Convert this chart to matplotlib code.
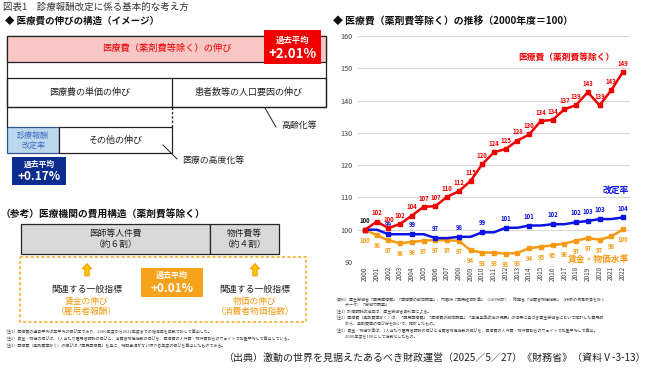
import matplotlib
matplotlib.use("Agg")
import matplotlib.pyplot as plt
from matplotlib.patches import Rectangle, FancyArrow

plt.rcParams['font.family'] = ['Noto Sans CJK JP', 'DejaVu Sans']

# ---------------- data ----------------
years = list(range(2000, 2023))
medical = [100, 102.5, 100.5, 101.8, 104.4, 107.1, 107.3, 110.2, 111.9, 115.1, 120.3, 124.0,
           125.0, 127.6, 129.5, 133.7, 134.0, 137.3, 138.6, 142.6, 138.5, 143.2, 148.9]
medical_lbl = ["100", "102", "100", "102", "104", "107", "107", "110", "112", "115", "120", "124",
               "125", "128", "130", "134", "134", "137", "139", "143", "139", "143", "149"]
revision = [100, 100, 98.6, 98.6, 98.6, 98.6, 97.4, 97.4, 97.8, 97.8, 99.2, 99.2,
            100.6, 100.6, 101.3, 101.3, 101.7, 101.7, 102.3, 102.7, 103.3, 103.3, 103.8]
revision_lbl = {2002: "99", 2004: "99", 2006: "97", 2008: "98", 2010: "99", 2012: "101",
                2014: "101", 2016: "102", 2018: "102", 2019: "103", 2020: "103", 2022: "104"}
wage_price = [100, 98.3, 96.7, 95.8, 96.2, 96.6, 96.8, 96.7, 96.6, 93.6, 92.9, 92.9,
              92.6, 92.8, 94.3, 94.7, 95.2, 95.7, 96.6, 97.4, 96.9, 97.9, 100.1]
wage_price_lbl = ["100", "98", "97", "96", "96", "97", "97", "97", "97", "94", "93", "93",
                  "93", "93", "94", "95", "95", "96", "97", "97", "97", "98", "100"]
yticks = [90, 100, 110, 120, 130, 140, 150, 160]

RED = "#F00000"
BLUE = "#0A14E6"
ORANGE = "#F59A12"

fig = plt.figure(figsize=(6.5, 3.68), dpi=100)
bg = fig.add_axes([0, 0, 1, 1])
bg.set_xlim(0, 650)
bg.set_ylim(368, 0)
bg.axis("off")

def T(x, y, s, size=6, color="#222222", weight="normal", ha="left", va="center", **kw):
    bg.text(x, y, s, fontsize=size, color=color, fontweight=weight, ha=ha, va=va, **kw)

# ---------------- left: structure diagram ----------------
T(3, 7, "図表1　診療報酬改定に係る基本的な考え方", size=6.8, color="#333333")
T(5, 21, "◆ 医療費の伸びの構造（イメージ）", size=6.8, weight="bold", color="#111111")

bg.add_patch(Rectangle((7, 36), 319, 71, fill=False, ec="#222222", lw=0.9))
bg.add_patch(Rectangle((7, 36), 319, 25.5, fc="#F9C6C6", ec="#222222", lw=0.9))
T(167, 48.5, "医療費（薬剤費等除く）の伸び", size=6.7, color=RED, ha="center")
bg.add_patch(Rectangle((264, 30), 57, 34, fc="#F00000", ec="none"))
T(292.5, 40, "過去平均", size=6, color="white", weight="bold", ha="center")
T(292.5, 54, "+2.01%", size=9.5, color="white", weight="bold", ha="center")

bg.add_patch(Rectangle((7, 78), 319, 29, fill=False, ec="#222222", lw=0.9))
bg.plot([172, 172], [78, 107], color="#222222", lw=0.9)
T(90, 92.5, "医療費の単価の伸び", size=6.5, ha="center")
T(249, 92.5, "患者数等の人口要因の伸び", size=6.5, ha="center")

bg.plot([7, 7], [107, 127], color="#222222", lw=0.9)
bg.plot([172, 172], [107, 127], color="#222222", lw=0.9, ls=(0, (2, 1.5)))
bg.add_patch(Rectangle((7, 127), 52, 26, fc="#BDD7EE", ec="#2F5597", lw=0.9))
T(33, 140, "診療報酬\n改定率", size=5.8, color="#4472C4", ha="center", linespacing=1.15)
bg.add_patch(Rectangle((59, 127), 113, 26, fc="white", ec="#222222", lw=0.9))
T(115, 140, "その他の伸び", size=6.5, ha="center")

bg.add_patch(Rectangle((12, 157), 54, 28, fc="#0B2D8F", ec="none"))
T(39, 164.5, "過去平均", size=5.6, color="white", weight="bold", ha="center")
T(39, 177, "+0.17%", size=8.5, color="white", weight="bold", ha="center")

bg.plot([265, 276], [108, 127], color="#222222", lw=0.7)
T(281, 125, "高齢化等", size=6.4)
bg.plot([163, 177], [145, 159], color="#222222", lw=0.7)
T(182, 160, "医療の高度化等", size=6.4)

# ---------------- left: cost structure ----------------
T(1, 215, "（参考）医療機関の費用構造（薬剤費等除く）", size=7.0, weight="bold", color="#111111")
bg.add_patch(Rectangle((21, 224), 189, 30, fc="#D9D9D9", ec="#262626", lw=0.9))
bg.add_patch(Rectangle((210, 224), 69, 30, fc="#D9D9D9", ec="#262626", lw=0.9))
T(115.5, 239, "医師等人件費\n（約６割）", size=6.3, ha="center", linespacing=1.3)
T(244.5, 239, "物件費等\n（約４割）", size=6.3, ha="center", linespacing=1.3)

bg.add_patch(Rectangle((20, 257), 286, 65, fill=False, ec="#F5A623", lw=1.1, ls=(0, (2, 1.5))))
for ax_x in (87, 255):
    bg.add_patch(FancyArrow(ax_x, 276, 0, -7, width=4.5, head_width=10, head_length=5.5,
                            length_includes_head=False, fc="#FFC000", ec="#F39800", lw=0.6))
    T(ax_x, 289, "関連する一般指標", size=6.4, ha="center")
T(87, 306.5, "賃金の伸び\n（雇用者報酬）", size=6.3, color=ORANGE, ha="center", linespacing=1.2)
T(255, 306.5, "物価の伸び\n（消費者物価指数）", size=6.3, color=ORANGE, ha="center", linespacing=1.2)

bg.add_patch(Rectangle((141, 268), 62, 29, fc="#F7A21B", ec="none"))
T(172, 275.5, "過去平均", size=5.8, color="white", weight="bold", ha="center")
T(172, 289, "+0.01%", size=8.5, color="white", weight="bold", ha="center")

notes_left = [
    "（注1）医療費の過去平均は年平均の伸び率であり、2000年度から2022年度までの増減率を年数で除して算出した。",
    "（注2）賃金・物価の伸びは、1人当たり雇用者報酬の伸びと、消費者物価指数の伸びを、医療費の人件費・物件費割合のウェイトで加重平均して算出している。",
    "（注3）医療費（薬剤費等除く）の伸びは「国民医療費」を基に、特記事項がない限り各年度の伸びを算出したものである。",
]
for i, s in enumerate(notes_left):
    T(3, 332 + i * 7, s, size=2.9, color="#444444")

# ---------------- right: line chart ----------------
T(333, 22, "◆ 医療費（薬剤費等除く）の推移（2000年度＝100）", size=7.1, weight="bold", color="#111111")

ax = fig.add_axes([358 / 650, 1 - 262 / 368, 272 / 650, (262 - 36) / 368])
ax.patch.set_alpha(0)
ax.set_xlim(1999.4, 2022.6)
ax.set_ylim(90, 160)
ax.set_yticks(yticks)
ax.set_xticks(years)
ax.set_xticklabels([str(y) for y in years], rotation=90, fontsize=4.6, color="#404040")
ax.tick_params(axis="y", labelsize=5.2, colors="#404040", length=0, pad=4)
ax.tick_params(axis="x", length=0, pad=3)
for s in ax.spines.values():
    s.set_visible(False)
ax.grid(axis="y", color="#D9D9D9", lw=0.8)
ax.set_axisbelow(True)

ax.plot(years, wage_price, color=ORANGE, lw=1.8, marker="s", ms=3, clip_on=False, zorder=3)
rev_idx = [0] + [years.index(y) for y in revision_lbl]
ax.plot(years, revision, color=BLUE, lw=1.8, marker="s", ms=3, markevery=rev_idx, clip_on=False, zorder=4)
ax.plot(years, medical, color=RED, lw=1.8, marker="s", ms=3, clip_on=False, zorder=5)

for i, (y, v, l) in enumerate(zip(years, medical, medical_lbl)):
    col = "#111111" if i == 0 else RED
    ax.annotate(l, (y, v), xytext=(0, 4.5), textcoords="offset points", ha="center",
                fontsize=4.3, color=col, fontweight="bold")
for y, l in revision_lbl.items():
    v = revision[years.index(y)]
    ax.annotate(l, (y, v), xytext=(0, 5), textcoords="offset points", ha="center",
                fontsize=4.3, color=BLUE, fontweight="bold")
for y, v, l in zip(years, wage_price, wage_price_lbl):
    ax.annotate(l, (y, v), xytext=(0, -5), textcoords="offset points", ha="center", va="top",
                fontsize=4.3, color=ORANGE, fontweight="bold")

ax.text(2017.2, 153.3, "医療費（薬剤費等除く）", fontsize=6.3, color=RED, fontweight="bold",
        ha="center", va="center")
ax.text(2022.5, 112.3, "改定率", fontsize=6.3, color=BLUE, fontweight="bold", ha="right", va="center")
ax.text(2022.5, 90.9, "賃金・物価水準", fontsize=6.3, color=ORANGE, fontweight="bold", ha="right", va="center")

notes_right = [
    "（資料）厚生労働省「国民医療費」「医療費の動向調査」、内閣府「国民経済計算」（GDP統計）、総務省「消費者物価指数」（持家の帰属家賃を除く",
    "　　　データ）「労働力調査」",
    "（注1）診療報酬改定率は、厚生労働省資料等による。",
    "（注2）医療費（薬剤費等除く）は、「国民医療費」「医療費の動向調査」「薬価基準改定の概要」の結果に基づき厚生労働省において推計した費用額",
    "　　　から、薬剤費等の伸び分を除いて、推計したもの。",
    "（注3）賃金・物価水準は、1人当たり雇用者報酬の伸びと消費者物価指数の伸びを、医療費の人件費・物件費割合のウェイトで加重平均して算出。",
    "　　　2000年度を100として指数化したもの。",
]
for i, s in enumerate(notes_right):
    T(333, 299 + i * 6.3, s, size=2.9, color="#444444")

T(646, 358, "（出典）激動の世界を見据えたあるべき財政運営（2025／5／27）《財務省》（資料Ⅴ-3-13）",
  size=7.2, color="#222222", ha="right")

fig.savefig("out.png", dpi=100)
